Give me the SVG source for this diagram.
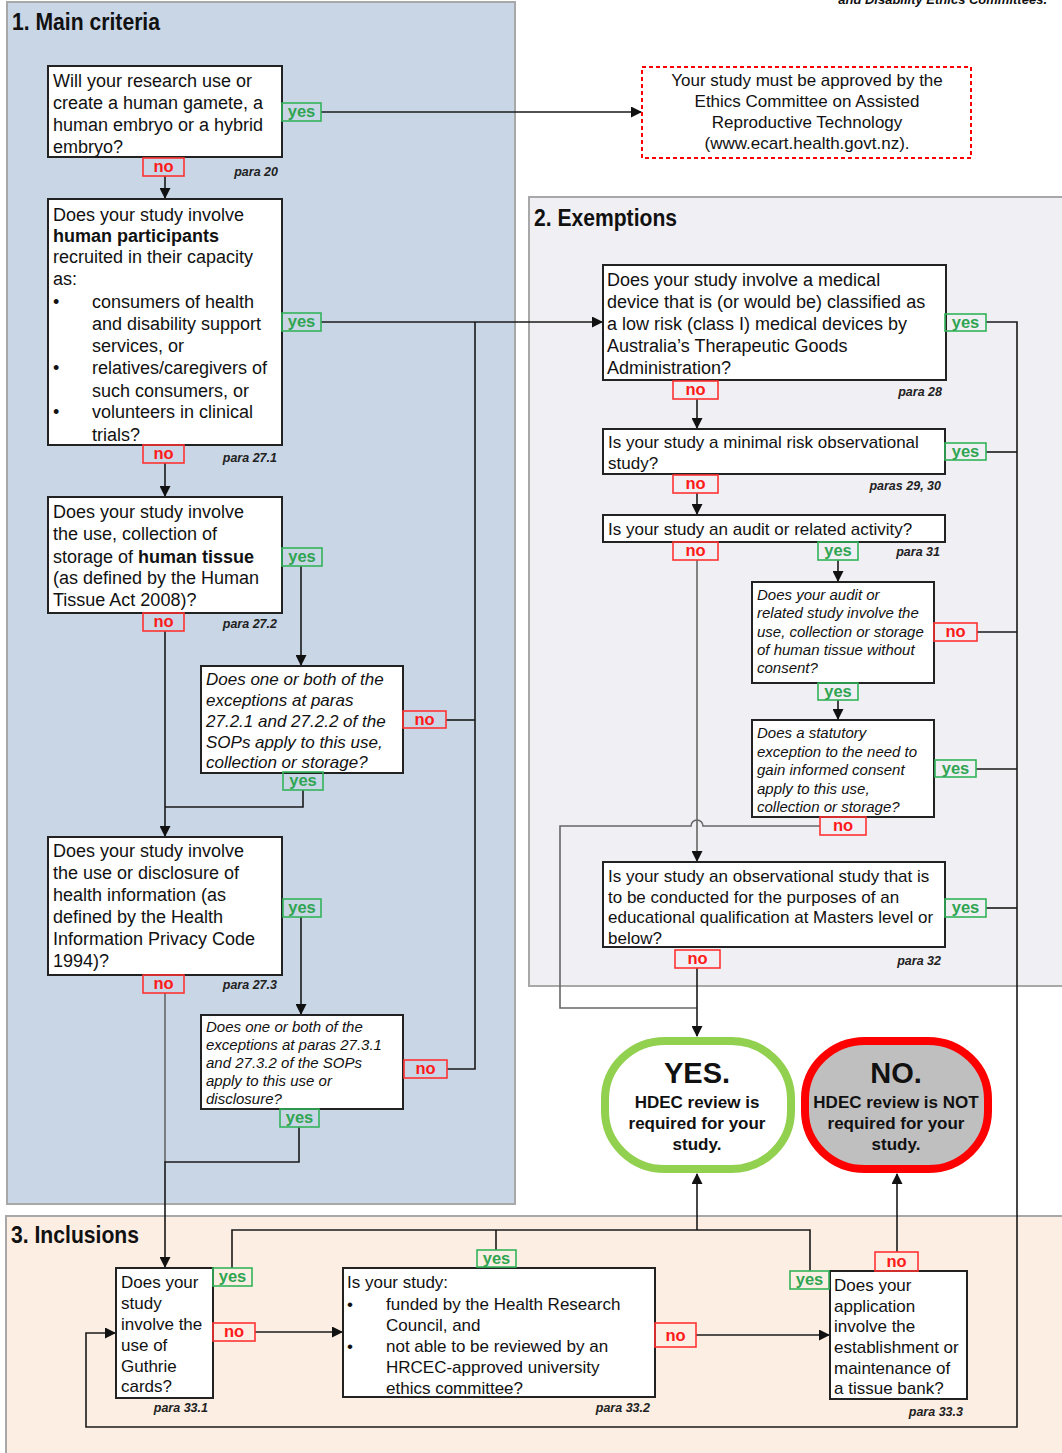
<svg xmlns="http://www.w3.org/2000/svg" width="1062" height="1453" viewBox="0 0 1062 1453">
<defs>
<marker id="arr" markerUnits="userSpaceOnUse" markerWidth="11" markerHeight="11" refX="10" refY="5.5" orient="auto">
<path d="M0,0 L11,5.5 L0,11 z" fill="#111"/>
</marker>
<style>
text{font-family:"Liberation Sans",Arial,sans-serif;fill:#111}
.t18{font-size:18px}
.t17{font-size:17px}
.i17{font-size:17px;font-style:italic}
.i15{font-size:15px;font-style:italic}
.b{font-weight:bold}
.title{font-size:24px;font-weight:bold}
.para{font-size:12.5px;font-weight:bold;font-style:italic;text-anchor:end;fill:#222}
.box{fill:#fff;stroke:#222;stroke-width:2}
.yr{fill:none;stroke:#33b35a;stroke-width:1.6}
.nr{fill:none;stroke:#ff3333;stroke-width:1.6}
.yt{font-size:16.5px;font-weight:bold;fill:#2fa552;text-anchor:middle}
.nt{font-size:16.5px;font-weight:bold;fill:#ff1a1a;text-anchor:middle}
.ln{fill:none;stroke:#1a1a1a;stroke-width:1.6}
.lg{fill:none;stroke:#666;stroke-width:1.6}
.panel{stroke:#a8a8a8;stroke-width:2}
.term{font-weight:bold;text-anchor:middle}
</style>
</defs>
<rect width="1062" height="1453" fill="#fff"/>
<text x="1047" y="4" style="font-size:13px;font-weight:bold;font-style:italic;text-anchor:end">and Disability Ethics Committees.</text>

<g id="panels">
<rect class="panel" x="7" y="2" width="508" height="1202" fill="#c9d6e6"/>
<rect class="panel" x="529" y="197" width="540" height="789" fill="#f0eff4"/>
<rect class="panel" x="6" y="1216" width="1062" height="245" fill="#fdeee3"/>
<text class="title" x="12" y="30" textLength="148" lengthAdjust="spacingAndGlyphs">1. Main criteria</text>
<text class="title" x="534" y="226" textLength="143" lengthAdjust="spacingAndGlyphs">2. Exemptions</text>
<text class="title" x="11" y="1243" textLength="128" lengthAdjust="spacingAndGlyphs">3. Inclusions</text>
</g>

<g id="connectors">
<path class="ln" d="M321,112 H641" marker-end="url(#arr)"/>
<path class="ln" d="M165,176 V198" marker-end="url(#arr)"/>
<path class="ln" d="M321,322 H602" marker-end="url(#arr)"/>
<path class="ln" d="M475,322 V1069 H447"/>
<path class="ln" d="M446,720 H475"/>
<path class="ln" d="M165,463 V496" marker-end="url(#arr)"/>
<path class="ln" d="M301,566 V665" marker-end="url(#arr)"/>
<path class="ln" d="M165,631 V836" marker-end="url(#arr)"/>
<path class="ln" d="M303,790 V807 H165"/>
<path class="ln" d="M301,917 V1014" marker-end="url(#arr)"/>
<path class="lg" d="M165,993 V1162"/>
<path class="ln" d="M299,1127 V1162 H165 V1267" marker-end="url(#arr)"/>
<path class="ln" d="M986,322 H1017 V1427 H86 V1333 H115" marker-end="url(#arr)"/>
<path class="ln" d="M986,452 H1017"/>
<path class="ln" d="M977,632 H1017"/>
<path class="ln" d="M976,769 H1017"/>
<path class="ln" d="M986,908 H1017"/>
<path class="ln" d="M697,399 V428" marker-end="url(#arr)"/>
<path class="ln" d="M697,493 V514" marker-end="url(#arr)"/>
<path class="ln" d="M838,560 V581" marker-end="url(#arr)"/>
<path class="ln" d="M838,700 V719" marker-end="url(#arr)"/>
<path class="lg" d="M697,560 V861" marker-end="url(#arr)"/>
<path class="lg" d="M820,826 H703 A6,6 0 0 0 691,826 H560 V1008 H697"/>
<path class="ln" d="M697,968 V1036" marker-end="url(#arr)"/>
<path class="ln" d="M232,1268 V1230 H810 V1271"/>
<path class="ln" d="M496,1250 V1230"/>
<path class="ln" d="M697,1230 V1174" marker-end="url(#arr)"/>
<path class="ln" d="M897,1252 V1174" marker-end="url(#arr)"/>
<path class="ln" d="M255,1332 H342" marker-end="url(#arr)"/>
<path class="ln" d="M696,1335 H829" marker-end="url(#arr)"/>
</g>

<g id="q-gamete">
<rect class="box" x="48" y="66" width="234" height="91"/>
<text class="t18" x="53" y="87">Will your research use or</text>
<text class="t18" x="53" y="109">create a human gamete, a</text>
<text class="t18" x="53" y="131">human embryo or a hybrid</text>
<text class="t18" x="53" y="153">embryo?</text>
<rect class="yr" x="282" y="103" width="39" height="18"/><text class="yt" x="301.5" y="117">yes</text>
<rect class="nr" x="143" y="158" width="41" height="18"/><text class="nt" x="163.5" y="172">no</text>
<text class="para" x="278" y="176">para 20</text>
</g>

<g id="ecart">
<rect x="642" y="67" width="329" height="91" fill="#fff" stroke="#ff0000" stroke-width="2" stroke-dasharray="4,3"/>
<text class="t17" x="807" y="86" text-anchor="middle">Your study must be approved by the</text>
<text class="t17" x="807" y="107" text-anchor="middle">Ethics Committee on Assisted</text>
<text class="t17" x="807" y="128" text-anchor="middle">Reproductive Technology</text>
<text class="t17" x="807" y="149" text-anchor="middle">(www.ecart.health.govt.nz).</text>
</g>

<g id="q-participants">
<rect class="box" x="48" y="199" width="234" height="246"/>
<text class="t18" x="53" y="221">Does your study involve</text>
<text class="t18 b" x="53" y="242">human participants</text>
<text class="t18" x="53" y="263">recruited in their capacity</text>
<text class="t18" x="53" y="285">as:</text>
<text class="t18" x="53" y="308">•</text>
<text class="t18" x="92" y="308">consumers of health</text>
<text class="t18" x="92" y="330">and disability support</text>
<text class="t18" x="92" y="352">services, or</text>
<text class="t18" x="53" y="374">•</text>
<text class="t18" x="92" y="374">relatives/caregivers of</text>
<text class="t18" x="92" y="397">such consumers, or</text>
<text class="t18" x="53" y="418">•</text>
<text class="t18" x="92" y="418">volunteers in clinical</text>
<text class="t18" x="92" y="441">trials?</text>
<rect class="yr" x="282" y="313" width="39" height="18"/><text class="yt" x="301.5" y="327">yes</text>
<rect class="nr" x="143" y="445" width="41" height="18"/><text class="nt" x="163.5" y="459">no</text>
<text class="para" x="277" y="462">para 27.1</text>
</g>

<g id="q-tissue">
<rect class="box" x="48" y="497" width="234" height="116"/>
<text class="t18" x="53" y="518">Does your study involve</text>
<text class="t18" x="53" y="540">the use, collection of</text>
<text class="t18" x="53" y="563">storage of <tspan class="b">human tissue</tspan></text>
<text class="t18" x="53" y="584">(as defined by the Human</text>
<text class="t18" x="53" y="606">Tissue Act 2008)?</text>
<rect class="yr" x="282" y="548" width="40" height="18"/><text class="yt" x="302" y="562">yes</text>
<rect class="nr" x="143" y="613" width="41" height="18"/><text class="nt" x="163.5" y="627">no</text>
<text class="para" x="277" y="628">para 27.2</text>
</g>

<g id="q-tissue-exc">
<rect class="box" x="201" y="666" width="202" height="107"/>
<text class="i17" x="206" y="685">Does one or both of the</text>
<text class="i17" x="206" y="706">exceptions at paras</text>
<text class="i17" x="206" y="727">27.2.1 and 27.2.2 of the</text>
<text class="i17" x="206" y="748">SOPs apply to this use,</text>
<text class="i17" x="206" y="768">collection or storage?</text>
<rect class="nr" x="403" y="711" width="43" height="17"/><text class="nt" x="424.5" y="725">no</text>
<rect class="yr" x="283" y="772" width="40" height="18"/><text class="yt" x="303" y="786">yes</text>
</g>

<g id="q-health-info">
<rect class="box" x="48" y="837" width="234" height="138"/>
<text class="t18" x="53" y="857">Does your study involve</text>
<text class="t18" x="53" y="879">the use or disclosure of</text>
<text class="t18" x="53" y="901">health information (as</text>
<text class="t18" x="53" y="923">defined by the Health</text>
<text class="t18" x="53" y="945">Information Privacy Code</text>
<text class="t18" x="53" y="967">1994)?</text>
<rect class="yr" x="283" y="899" width="38" height="18"/><text class="yt" x="302" y="913">yes</text>
<rect class="nr" x="143" y="975" width="41" height="18"/><text class="nt" x="163.5" y="989">no</text>
<text class="para" x="277" y="989">para 27.3</text>
</g>

<g id="q-health-exc">
<rect class="box" x="201" y="1015" width="202" height="94"/>
<text class="i15" x="206" y="1032">Does one or both of the</text>
<text class="i15" x="206" y="1050">exceptions at paras 27.3.1</text>
<text class="i15" x="206" y="1068">and 27.3.2 of the SOPs</text>
<text class="i15" x="206" y="1086">apply to this use or</text>
<text class="i15" x="206" y="1104">disclosure?</text>
<rect class="nr" x="404" y="1060" width="43" height="18"/><text class="nt" x="425.5" y="1074">no</text>
<rect class="yr" x="280" y="1109" width="39" height="18"/><text class="yt" x="299.5" y="1123">yes</text>
</g>

<g id="q-device">
<rect class="box" x="603" y="265" width="343" height="115"/>
<text class="t18" x="607" y="286">Does your study involve a medical</text>
<text class="t18" x="607" y="308">device that is (or would be) classified as</text>
<text class="t18" x="607" y="330">a low risk (class I) medical devices by</text>
<text class="t18" x="607" y="352">Australia’s Therapeutic Goods</text>
<text class="t18" x="607" y="374">Administration?</text>
<rect class="yr" x="945" y="314" width="41" height="17"/><text class="yt" x="965.5" y="328">yes</text>
<rect class="nr" x="673" y="381" width="45" height="18"/><text class="nt" x="695.5" y="395">no</text>
<text class="para" x="942" y="396">para 28</text>
</g>

<g id="q-minimal-risk">
<rect class="box" x="603" y="429" width="342" height="45"/>
<text class="t17" x="608" y="448">Is your study a minimal risk observational</text>
<text class="t17" x="608" y="469">study?</text>
<rect class="yr" x="945" y="443" width="41" height="17"/><text class="yt" x="965.5" y="457">yes</text>
<rect class="nr" x="673" y="475" width="45" height="18"/><text class="nt" x="695.5" y="489">no</text>
<text class="para" x="941" y="490">paras 29, 30</text>
</g>

<g id="q-audit">
<rect class="box" x="603" y="515" width="342" height="27"/>
<text class="t17" x="608" y="535">Is your study an audit or related activity?</text>
<rect class="nr" x="673" y="542" width="45" height="18"/><text class="nt" x="695.5" y="556">no</text>
<rect class="yr" x="818" y="542" width="40" height="18"/><text class="yt" x="838" y="556">yes</text>
<text class="para" x="940" y="556">para 31</text>
</g>

<g id="q-audit-tissue">
<rect class="box" x="752" y="582" width="182" height="101"/>
<text class="i15" x="757" y="600">Does your audit or</text>
<text class="i15" x="757" y="618">related study involve the</text>
<text class="i15" x="757" y="637">use, collection or storage</text>
<text class="i15" x="757" y="655">of human tissue without</text>
<text class="i15" x="757" y="673">consent?</text>
<rect class="nr" x="934" y="623" width="43" height="18"/><text class="nt" x="955.5" y="637">no</text>
<rect class="yr" x="818" y="683" width="40" height="17"/><text class="yt" x="838" y="697">yes</text>
</g>

<g id="q-statutory">
<rect class="box" x="752" y="720" width="182" height="97"/>
<text class="i15" x="757" y="738">Does a statutory</text>
<text class="i15" x="757" y="757">exception to the need to</text>
<text class="i15" x="757" y="775">gain informed consent</text>
<text class="i15" x="757" y="794">apply to this use,</text>
<text class="i15" x="757" y="812">collection or storage?</text>
<rect class="yr" x="935" y="760" width="41" height="17"/><text class="yt" x="955.5" y="774">yes</text>
<rect class="nr" x="820" y="817" width="46" height="18"/><text class="nt" x="843" y="831">no</text>
</g>

<g id="q-educational">
<rect class="box" x="603" y="862" width="342" height="85"/>
<text class="t17" x="608" y="882">Is your study an observational study that is</text>
<text class="t17" x="608" y="903">to be conducted for the purposes of an</text>
<text class="t17" x="608" y="923">educational qualification at Masters level or</text>
<text class="t17" x="608" y="944">below?</text>
<rect class="yr" x="945" y="899" width="41" height="18"/><text class="yt" x="965.5" y="913">yes</text>
<rect class="nr" x="675" y="950" width="45" height="18"/><text class="nt" x="697.5" y="964">no</text>
<text class="para" x="941" y="965">para 32</text>
</g>

<g id="t-yes">
<rect x="605" y="1041" width="186" height="128" rx="60" ry="58" fill="#fff" stroke="#92d050" stroke-width="8"/>
<text class="term" x="697" y="1083" style="font-size:29px">YES.</text>
<text class="term" x="697" y="1108" style="font-size:17px">HDEC review is</text>
<text class="term" x="697" y="1129" style="font-size:17px">required for your</text>
<text class="term" x="697" y="1150" style="font-size:17px">study.</text>
</g>

<g id="t-no">
<rect x="805" y="1041" width="183" height="128" rx="60" ry="58" fill="#bfbfbf" stroke="#ff0000" stroke-width="8"/>
<text class="term" x="896" y="1083" style="font-size:29px">NO.</text>
<text class="term" x="896" y="1108" style="font-size:17px">HDEC review is NOT</text>
<text class="term" x="896" y="1129" style="font-size:17px">required for your</text>
<text class="term" x="896" y="1150" style="font-size:17px">study.</text>
</g>

<g id="q-guthrie">
<rect class="box" x="116" y="1268" width="97" height="130"/>
<text class="t17" x="121" y="1288">Does your</text>
<text class="t17" x="121" y="1309">study</text>
<text class="t17" x="121" y="1330">involve the</text>
<text class="t17" x="121" y="1351">use of</text>
<text class="t17" x="121" y="1372">Guthrie</text>
<text class="t17" x="121" y="1392">cards?</text>
<rect class="yr" x="213" y="1268" width="39" height="18"/><text class="yt" x="232.5" y="1282">yes</text>
<rect class="nr" x="213" y="1323" width="42" height="18"/><text class="nt" x="234" y="1337">no</text>
<text class="para" x="208" y="1412">para 33.1</text>
</g>

<g id="q-hrc">
<rect class="box" x="343" y="1268" width="312" height="129"/>
<text class="t17" x="347" y="1288">Is your study:</text>
<text class="t17" x="347" y="1310">•</text>
<text class="t17" x="386" y="1310">funded by the Health Research</text>
<text class="t17" x="386" y="1331">Council, and</text>
<text class="t17" x="347" y="1352">•</text>
<text class="t17" x="386" y="1352">not able to be reviewed by an</text>
<text class="t17" x="386" y="1373">HRCEC-approved university</text>
<text class="t17" x="386" y="1394">ethics committee?</text>
<rect class="yr" x="477" y="1250" width="39" height="17"/><text class="yt" x="496.5" y="1264">yes</text>
<rect class="nr" x="655" y="1323" width="41" height="24"/><text class="nt" x="675.5" y="1341">no</text>
<text class="para" x="650" y="1412">para 33.2</text>
</g>

<g id="q-tissue-bank">
<rect class="box" x="830" y="1271" width="137" height="128"/>
<text class="t17" x="834" y="1291">Does your</text>
<text class="t17" x="834" y="1312">application</text>
<text class="t17" x="834" y="1332">involve the</text>
<text class="t17" x="834" y="1353">establishment or</text>
<text class="t17" x="834" y="1374">maintenance of</text>
<text class="t17" x="834" y="1394">a tissue bank?</text>
<rect class="yr" x="790" y="1271" width="39" height="18"/><text class="yt" x="809.5" y="1285">yes</text>
<rect class="nr" x="875" y="1252" width="43" height="19"/><text class="nt" x="896.5" y="1267">no</text>
<text class="para" x="963" y="1416">para 33.3</text>
</g>
</svg>
